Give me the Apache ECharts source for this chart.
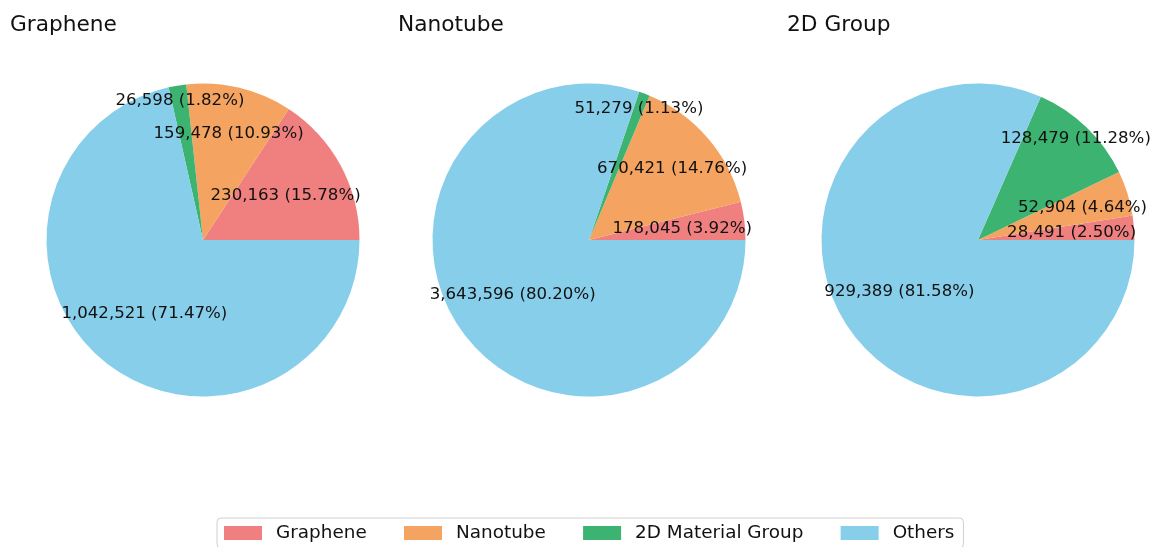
<!DOCTYPE html>
<html>
<head>
<meta charset="utf-8">
<script src="https://cdn.jsdelivr.net/npm/echarts@6/dist/echarts.min.js"></script>
<style>
  html, body { margin: 0; padding: 0; background: #fff; }
  #chart { width: 1155px; height: 547px; }
</style>
</head>
<body>
<div id="chart"></div>
<script>
// data
const categories = ['Graphene', 'Nanotube', '2D Material Group', 'Others']
const pieTitles = ['Graphene', 'Nanotube', '2D Group']
const grapheneValues = [230163, 159478, 26598, 1042521]
const nanotubeValues = [178045, 670421, 51279, 3643596]
const group2dValues = [28491, 52904, 128479, 929389]

const colors = ['#F08080', '#F4A460', '#3CB371', '#87CEEB']
const font = 'DejaVu Sans'
const pieRadius = 156.5
const pieCenters = [[203, 240], [589, 240], [978, 240]]
const titleLefts = [10, 398, 787]
// radial position of each slice label, as a fraction of the radius
const labelRadius = [0.6, 0.7, 0.9, 0.6]

const allValues = [grapheneValues, nanotubeValues, group2dValues]

function pct(values, i) {
  const sum = values.reduce((a, b) => a + b, 0)
  return (values[i] / sum * 100).toFixed(2)
}

function makeSeries(values, k) {
  const sum = values.reduce((a, b) => a + b, 0)
  const [cx, cy] = pieCenters[k]
  return {
    type: 'pie',
    center: [cx, cy],
    radius: pieRadius,
    startAngle: 0,
    clockwise: false,
    avoidLabelOverlap: false,
    silent: true,
    itemStyle: { borderWidth: 0 },
    label: {
      show: true,
      position: 'inside',
      fontFamily: font,
      fontSize: 16.6,
      color: '#111',
      formatter: p => p.value.toLocaleString('en-US') + ' (' + pct(values, p.dataIndex) + '%)'
    },
    labelLine: { show: false },
    labelLayout: params => {
      const i = params.dataIndex
      let cum = 0
      for (let j = 0; j < i; j++) cum += values[j]
      const mid = (cum + values[i] / 2) / sum * Math.PI * 2
      const r = labelRadius[i] * pieRadius
      return {
        x: cx + r * Math.cos(mid),
        y: cy - r * Math.sin(mid),
        align: 'center',
        verticalAlign: 'middle'
      }
    },
    data: categories.map((name, i) => ({ name, value: values[i] }))
  }
}

const chart = echarts.init(document.getElementById('chart'))
chart.setOption({
  animation: false,
  color: colors,
  title: pieTitles.map((t, k) => ({
    text: t,
    left: titleLefts[k],
    top: 14,
    padding: 0,
    textStyle: { fontFamily: font, fontSize: 21.7, fontWeight: 'normal', color: '#111' }
  })),
  legend: {
    data: categories,
    left: 217,
    top: 518,
    orient: 'horizontal',
    icon: 'rect',
    itemWidth: 38,
    itemHeight: 14,
    itemGap: 37.3,
    padding: [6, 9, 6, 7],
    backgroundColor: '#fff',
    borderColor: '#d0d0d0',
    borderWidth: 1,
    borderRadius: 4,
    selectedMode: false,
    textStyle: { fontFamily: font, fontSize: 18.4, color: '#111', padding: [0, 0, 0, 9] }
  },
  series: allValues.map(makeSeries)
})
</script>
</body>
</html>
